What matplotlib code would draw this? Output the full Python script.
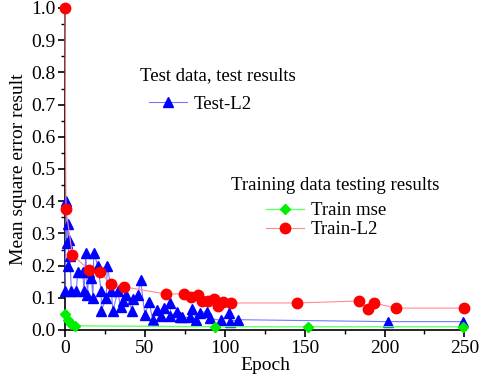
import matplotlib
matplotlib.use("Agg")
import matplotlib.pyplot as plt
from matplotlib.ticker import MultipleLocator, FormatStrFormatter

plt.rcParams['font.family'] = ['Liberation Serif', 'DejaVu Serif']

# --- data ---
test_epoch = [0, 0.8, 1, 1.9, 2.3, 2, 3, 4, 7, 8, 11, 12, 13, 14, 15, 16.5, 17.5, 18,
              20.5, 22.7, 22.7, 25.8, 26.5, 29, 30, 33, 34.8, 36.3, 38.3, 42, 42.3,
              45.6, 47.3, 50, 52.7, 54.8, 57.3, 59.8, 62, 66, 66, 69.8, 72, 73.5, 78,
              79.8, 82.3, 84.4, 89, 90.6, 97.5, 102.7, 103, 108.5, 202, 249]
test_l2 = [0.12, 0.40, 0.27, 0.33, 0.28, 0.20, 0.23, 0.12, 0.12, 0.18, 0.18, 0.12, 0.24,
           0.11, 0.18, 0.16, 0.10, 0.24, 0.20, 0.12, 0.06, 0.10, 0.20, 0.12, 0.06, 0.12,
           0.07, 0.09, 0.11, 0.06, 0.095, 0.11, 0.155, 0.047, 0.088, 0.031, 0.062, 0.043,
           0.067, 0.085, 0.043, 0.057, 0.041, 0.039, 0.039, 0.064, 0.031, 0.054, 0.057,
           0.036, 0.030, 0.052, 0.026, 0.032, 0.026, 0.026]

train_epoch = [0, 2, 4, 6, 94, 152, 249]
train_mse = [0.05, 0.03, 0.02, 0.013, 0.01, 0.01, 0.01]

train_l2_epoch = [0, 0.6, 4.6, 15.2, 21.9, 28.6, 36.9, 63, 74.6, 78.8, 83.3, 85.8, 89.4,
                  93.3, 95.8, 98.9, 103.8, 145.2, 184.2, 189.6, 193.3, 207.3, 249.6]
train_l2 = [1.0, 0.376, 0.233, 0.186, 0.18, 0.143, 0.134, 0.112, 0.112, 0.102, 0.108,
            0.091, 0.091, 0.096, 0.075, 0.087, 0.084, 0.084, 0.09, 0.065, 0.084, 0.068, 0.068]

fig = plt.figure(figsize=(4.84, 3.84), dpi=100, facecolor='white')
ax = fig.add_axes([65 / 484, 54 / 384, 401 / 484, 322 / 384])

# Test-L2: light blue line, solid blue triangles
lt, = ax.plot(test_epoch, test_l2, color='#7878ff', lw=0.8, marker='^', ms=7.5,
              mfc='#0000ff', mec='#0000ff', clip_on=False, zorder=3)
lm, = ax.plot(train_epoch, train_mse, color='#66ff66', lw=1.0, marker='D', ms=5.5,
              mfc='#00ee00', mec='#00ee00', clip_on=False, zorder=4)
lr, = ax.plot(train_l2_epoch, train_l2, color='#ff8c8c', lw=0.8, marker='o', ms=7.5,
              mfc='#ff0000', mec='#ff0000', clip_on=False, zorder=5)

ax.set_xlim(0, 251)
ax.set_ylim(0, 1.0)
ax.xaxis.set_major_locator(MultipleLocator(50))
ax.xaxis.set_minor_locator(MultipleLocator(25))
ax.yaxis.set_major_locator(MultipleLocator(0.1))
ax.yaxis.set_minor_locator(MultipleLocator(0.05))
ax.yaxis.set_major_formatter(FormatStrFormatter('%.1f'))

ax.spines['top'].set_visible(False)
ax.spines['right'].set_visible(False)
for s in ['left', 'bottom']:
    ax.spines[s].set_linewidth(1.2)
ax.tick_params(which='major', direction='out', length=5, width=1.2, labelsize=14, pad=2)
ax.tick_params(which='minor', direction='out', length=3, width=1.0)

ax.set_xlabel('Epoch', fontsize=14, labelpad=0)
ax.set_ylabel('Mean square error result', fontsize=14, labelpad=3)

# legends (no frame), titles as separate text
fig.text(140 / 484, 1 - 76 / 384, 'Test data, test results', fontsize=13.5, va='center', ha='left')
leg1 = ax.legend([lt], ['Test-L2'], loc='center left', frameon=False, fontsize=13.5,
                 handlelength=2.0, handletextpad=0.4, borderpad=0, borderaxespad=0,
                 bbox_to_anchor=(149 / 484, 1 - 104 / 384), bbox_transform=fig.transFigure)
ax.add_artist(leg1)

fig.text(231 / 484, 1 - 186 / 384, 'Training data testing results', fontsize=13.5, va='center', ha='left')
ax.legend([lm, lr], ['Train mse', 'Train-L2'], loc='upper left', frameon=False, fontsize=13.5,
          handlelength=2.0, handletextpad=0.4, borderpad=0, borderaxespad=0, labelspacing=0.1,
          bbox_to_anchor=(266 / 484, 1 - 202 / 384), bbox_transform=fig.transFigure)

fig.savefig('out.png', dpi=100, facecolor='white')
